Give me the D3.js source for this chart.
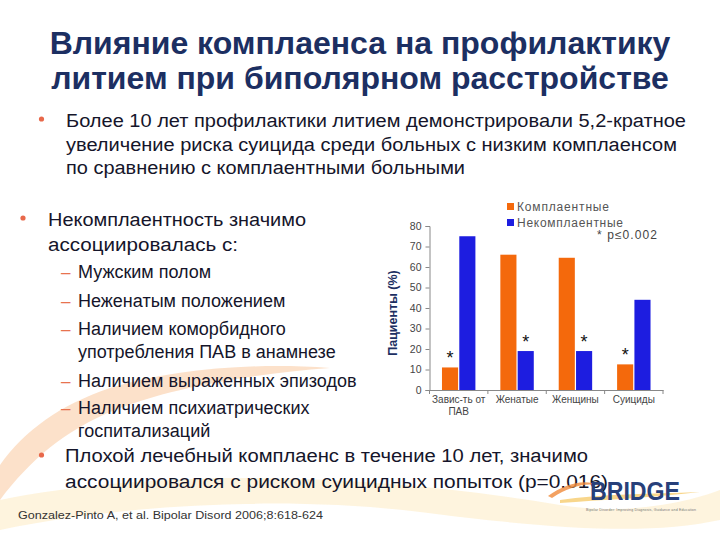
<!DOCTYPE html>
<html><head><meta charset="utf-8">
<script src="https://cdn.jsdelivr.net/npm/d3@7"></script>
<style>html,body{margin:0;padding:0;background:#fff}svg{display:block}</style>
</head><body><svg id="c" width="720" height="540"></svg>
<script>
// ---- data ----
const categories = ["Завис-ть от\nПАВ", "Женатые", "Женщины", "Суициды"];
const seriesNames = ["Комплаентные", "Некомплаентные"];
const compliant = [11, 66, 64.5, 12.5];
const nonCompliant = [75, 19, 19, 44];
const sigCompliant = [true, false, false, true];
const sigNonCompliant = [false, true, true, false];
const yTicks = [0, 10, 20, 30, 40, 50, 60, 70, 80];
const titleLines = ["Влияние комплаенса на профилактику", "литием при биполярном расстройстве"];
const bullet1 = ["Более 10 лет профилактики литием демонстрировали 5,2-кратное",
  "увеличение риска суицида среди больных с низким комплаенсом",
  "по сравнению с комплаентными больными"];
const bullet2 = ["Некомплаентность значимо", "ассоциировалась с:"];
const subItems = [["Мужским полом"], ["Неженатым положением"],
  ["Наличием коморбидного", "употребления ПАВ в анамнезе"],
  ["Наличием выраженных эпизодов"], ["Наличием психиатрических", "госпитализаций"]];
const bullet3 = ["Плохой лечебный комплаенс в течение 10 лет, значимо",
  "ассоциировался с риском суицидных попыток (р=0.016)"];
const citation = "Gonzalez-Pinto A, et al. Bipolar Disord 2006;8:618-624";
const pNote = "* p≤0.002";
const yTitle = "Пациенты (%)";

const svg = d3.select("#c");
const F = "'Liberation Sans', Arial, sans-serif";
const navy = "#1c2f62", ink = "#15152a", orange = "#f4690c", blue = "#1d1de0";

// background decoration
const deco = svg.append("g");
deco.append("path").attr("d", "M0,465 C25,430 60,405 110,388 C170,370 250,362 330,368 C250,374 170,388 115,410 C65,430 30,460 0,500 Z")
  .attr("fill", "#f6a866").attr("opacity", 0.35);
deco.append("path").attr("d", "M0,500 C150,470 350,470 560,505 C620,515 680,505 720,490 L720,520 C650,535 560,530 420,512 C280,495 120,505 0,530 Z")
  .attr("fill", "#fbe0a0").attr("opacity", 0.35);

// title
svg.append("g").selectAll("text").data(titleLines).join("text")
  .attr("x", 360).attr("y", (d, i) => 54 + i * 35).attr("text-anchor", "middle")
  .attr("font-family", F).attr("font-weight", "bold").attr("font-size", 32).attr("fill", navy)
  .text(d => d);

function lines(arr, x, y0, dy, size, widths) {
  const g = svg.append("g");
  arr.forEach((t, i) => {
    const el = g.append("text").attr("x", x).attr("y", y0 + i * dy)
      .attr("font-family", F).attr("font-size", size).attr("fill", ink).text(t);
    if (widths && widths[i]) el.attr("textLength", widths[i]).attr("lengthAdjust", "spacingAndGlyphs");
  });
}
function dot(x, y) { svg.append("circle").attr("cx", x).attr("cy", y).attr("r", 2.6).attr("fill", "#e8684a"); }

dot(41.5, 119);
lines(bullet1, 66, 127, 23.5, 18, [620, 611, 399]);
dot(23, 218);
lines(bullet2, 48, 226, 24.5, 18, [258, 190]);
let sy = 278;
const subDy = [29, 28, 29, 27, 0];
subItems.forEach((it, k) => {
  svg.append("text").attr("x", 61).attr("y", sy).attr("font-family", F).attr("font-size", 17)
    .attr("fill", "#e8734f").text("–");
  lines(it, 78, sy, 23, 18);
  sy += (it.length - 1) * 23 + subDy[k];
});
dot(41.5, 455);
lines(bullet3, 65, 462, 25.5, 18, [523, 543]);
svg.append("text").attr("x", 18).attr("y", 519).attr("font-family", F).attr("font-size", 11)
  .attr("fill", "#333").attr("textLength", 305).attr("lengthAdjust", "spacingAndGlyphs").text(citation);

// BRIDGE logo
const logo = svg.append("g");
logo.append("path").attr("d", "M548,496 C565,484 585,478 600,486 C588,482 570,486 552,498 Z").attr("fill", "#f08a3a").attr("opacity", 0.8);
logo.append("path").attr("d", "M560,500 C600,494 650,494 700,492 C650,498 600,500 560,503 Z").attr("fill", "#f5c55a").attr("opacity", 0.7);
logo.append("text").attr("x", 590).attr("y", 500).attr("font-family", F).attr("font-weight", "bold")
  .attr("font-size", 25).attr("fill", "#27407a").attr("textLength", 90).attr("lengthAdjust", "spacingAndGlyphs").text("BRIDGE");
logo.append("text").attr("x", 586).attr("y", 511).attr("font-family", F).attr("font-size", 3.6)
  .attr("fill", "#777").attr("textLength", 110).text("Bipolar Disorder: Improving Diagnosis, Guidance and Education");

// ---- chart ----
const x0 = 429.5, x1 = 663, yb = 390, yt = 226;
const x = d3.scaleBand().domain(categories).range([x0, x1]).paddingInner(0).paddingOuter(0);
const xs = d3.scaleBand().domain(seriesNames).range([0, x.bandwidth()]).paddingInner(0.07).paddingOuter(0.72);
const y = d3.scaleLinear().domain([0, 80]).range([yb, yt]);
const chart = svg.append("g");

const rows = categories.map((c, i) => ({ c, vals: [
  { s: seriesNames[0], v: compliant[i], sig: sigCompliant[i], col: orange },
  { s: seriesNames[1], v: nonCompliant[i], sig: sigNonCompliant[i], col: blue }] }));

const grp = chart.selectAll("g.grp").data(rows).join("g").attr("class", "grp")
  .attr("transform", d => `translate(${x(d.c)},0)`);
grp.selectAll("rect").data(d => d.vals).join("rect")
  .attr("x", d => xs(d.s)).attr("width", xs.bandwidth())
  .attr("y", d => y(d.v)).attr("height", d => yb - y(d.v)).attr("fill", d => d.col);
grp.selectAll("text.star").data(d => d.vals.filter(v => v.sig)).join("text").attr("class", "star")
  .attr("x", d => xs(d.s) + xs.bandwidth() / 2).attr("y", d => y(d.v) - 3)
  .attr("text-anchor", "middle").attr("font-family", F).attr("font-size", 18).attr("fill", "#111").text("*");

// y axis
const yAxis = chart.append("g").attr("transform", `translate(${x0},0)`)
  .call(d3.axisLeft(y).tickValues(yTicks).tickSize(4).tickPadding(4));
yAxis.select(".domain").attr("stroke", "#888");
yAxis.selectAll(".tick line").attr("stroke", "#888");
yAxis.selectAll(".tick text").attr("font-family", F).attr("font-size", 10.5).attr("fill", "#444");

// x axis
const xAxis = chart.append("g").attr("transform", `translate(0,${yb})`)
  .call(d3.axisBottom(x).tickSize(0).tickPadding(7).tickFormat(""));
xAxis.select(".domain").attr("stroke", "#888");
xAxis.selectAll(".bnd").data(categories.map(c => x(c)).concat([x1])).join("line").attr("class", "bnd")
  .attr("x1", d => d).attr("x2", d => d).attr("y1", 0).attr("y2", 4).attr("stroke", "#888");
xAxis.selectAll(".tick").each(function (d) {
  const t = d3.select(this).append("text").attr("y", 13).attr("text-anchor", "middle")
    .attr("font-family", F).attr("font-size", 10).attr("fill", "#444");
  d.split("\n").forEach((s, i) => t.append("tspan").attr("x", 0).attr("dy", i ? 12 : 0).text(s));
});

// y title
chart.append("text").attr("transform", `translate(397,${(yb + yt) / 2 + 5}) rotate(-90)`)
  .attr("text-anchor", "middle").attr("font-family", F).attr("font-weight", "bold")
  .attr("font-size", 12.5).attr("fill", navy).text(yTitle);

// legend
const lg = chart.append("g").selectAll("g").data([[seriesNames[0], orange, 92], [seriesNames[1], blue, 106]]).join("g")
  .attr("transform", (d, i) => `translate(507,${203 + i * 16})`);
lg.append("rect").attr("width", 7).attr("height", 7).attr("fill", d => d[1]);
lg.append("text").attr("x", 10).attr("y", 8).attr("font-family", F).attr("font-size", 12)
  .attr("fill", "#555").attr("textLength", d => d[2]).attr("lengthAdjust", "spacing").text(d => d[0]);
chart.append("text").attr("x", 597).attr("y", 239).attr("font-family", F).attr("font-size", 12)
  .attr("fill", "#444").attr("textLength", 60).attr("lengthAdjust", "spacing").text(pNote);
</script></body></html>
